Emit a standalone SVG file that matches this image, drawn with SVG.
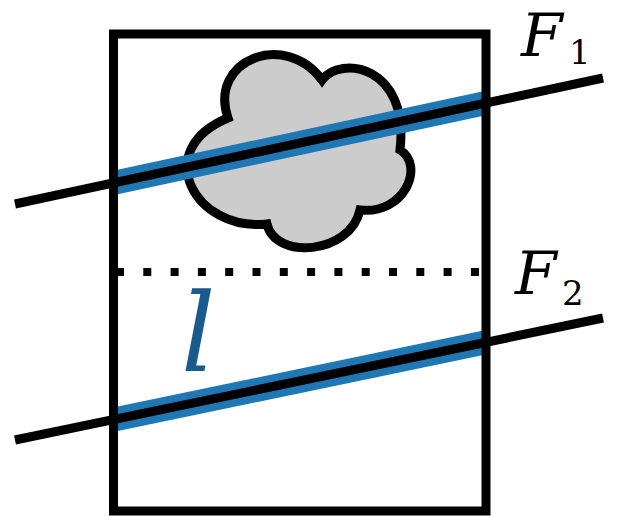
<svg xmlns="http://www.w3.org/2000/svg" width="619" height="516" viewBox="0 0 619 516">
<style>
.blk{stroke:#000;stroke-width:9;fill:none}
.blue{stroke:#1f77b4;stroke-width:24;fill:none}
.lbl{font-family:"DejaVu Serif",serif;font-style:italic;fill:#000}
.sub{font-family:"DejaVu Serif",serif;fill:#000}
</style>
<rect width="619" height="516" fill="#fff"/>
<g id="cloud">
<path d="M228,118 C208,60 285,30 322,80 C340,55 410,65 400,150 C425,165 405,215 360,210 C350,255 275,260 267,224 C195,232 150,150 228,118 Z" fill="#cccccc" stroke="#000" stroke-width="9" stroke-linejoin="miter" stroke-miterlimit="6"/>
</g>
<g id="connectors">
<line class="blue" x1="113" y1="183" x2="487" y2="102.8"/>
<line class="blue" x1="113" y1="419.7" x2="487" y2="342.1"/>
<line x1="113" y1="272" x2="487" y2="272" stroke="#000" stroke-width="8" stroke-dasharray="8 19.3" stroke-dashoffset="-3"/>
<line class="blk" x1="15" y1="204" x2="603" y2="78"/>
<line class="blk" x1="15" y1="440" x2="603" y2="318"/>
</g>
<g id="box">
<rect class="blk" x="113.5" y="34" width="372.5" height="477"/>
</g>
<g id="label-F1">
<text class="lbl" x="521" y="56" font-size="60">F</text>
<text class="sub" x="569" y="64" font-size="34">1</text>
</g>
<g id="label-F2">
<text class="lbl" x="515" y="294" font-size="60">F</text>
<text class="sub" x="562" y="305" font-size="34">2</text>
</g>
<g id="label-l">
<text class="lbl" x="181" y="371" font-size="108" style="fill:#1a5a8c">l</text>
</g>
</svg>
